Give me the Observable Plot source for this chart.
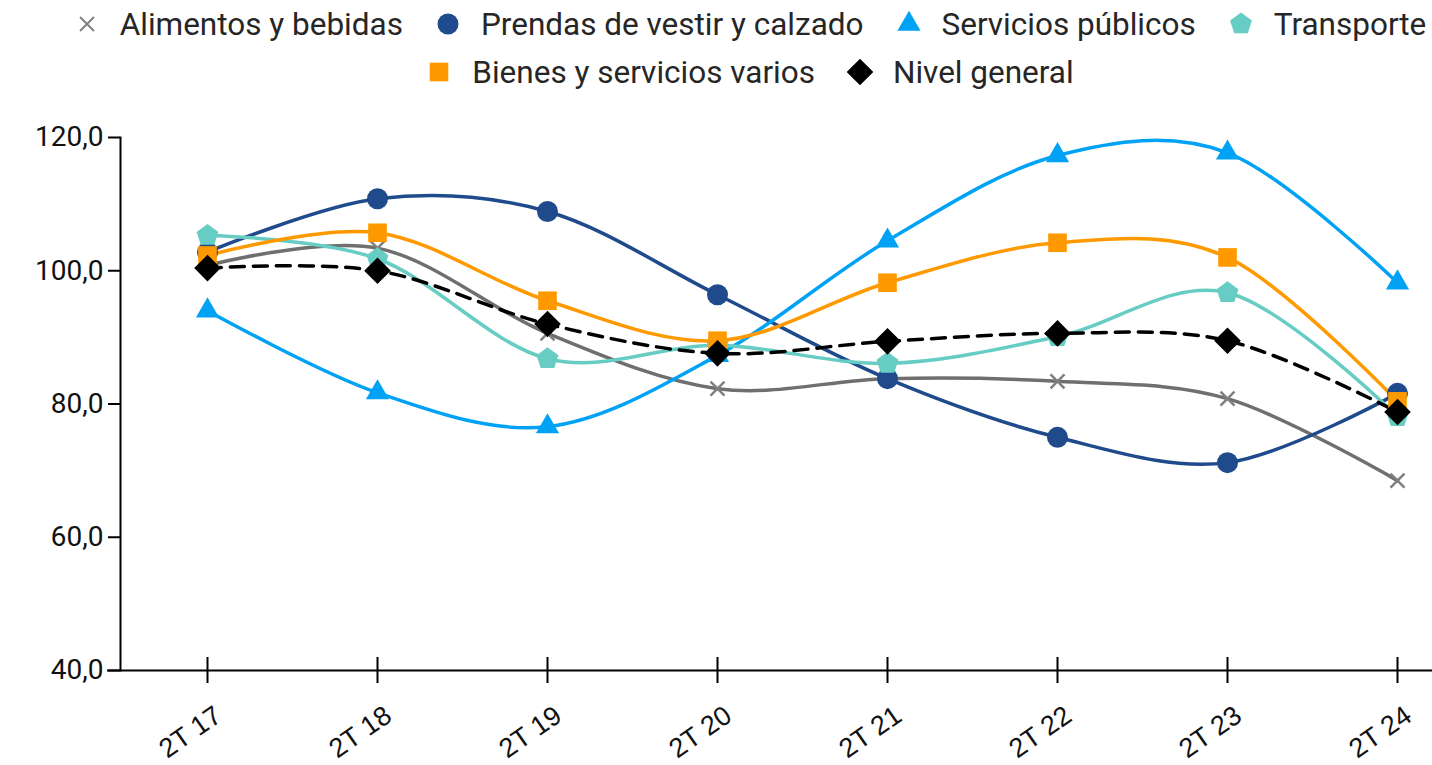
<!DOCTYPE html>
<html><head><meta charset="utf-8">
<script src="https://cdn.jsdelivr.net/npm/d3@7"></script>
<script src="https://cdn.jsdelivr.net/npm/@observablehq/plot@0.6"></script>
<style>
body{margin:0;background:#fff;font-family:Roboto,sans-serif;}
#legend{height:95px;padding-left:66px;box-sizing:border-box;}
.row{display:flex;justify-content:center;align-items:center;height:48px;}
.item{display:flex;align-items:center;margin:0 15px;font-size:31.5px;color:#262626;white-space:nowrap;}
.item svg{margin-right:18px}
</style></head><body><div id="legend"></div><div id="chart"></div>
<script>
const periods = ["2T 17","2T 18","2T 19","2T 20","2T 21","2T 22","2T 23","2T 24"];
const seriesNames = ["Alimentos y bebidas","Prendas de vestir y calzado","Servicios públicos","Transporte","Bienes y servicios varios","Nivel general"];
const alimentos = [100.8, 103.4, 90.6, 82.3, 83.8, 83.4, 80.8, 68.5];
const prendas = [102.8, 110.8, 108.9, 96.4, 83.8, 75.0, 71.2, 81.6];
const servicios = [94.0, 81.7, 76.6, 87.3, 104.5, 117.3, 117.7, 98.2];
const transporte = [105.3, 101.8, 86.8, 88.8, 86.1, 90.1, 96.7, 78.1];
const bienes = [102.3, 105.7, 95.5, 89.5, 98.2, 104.2, 102.0, 80.4];
const nivel = [100.4, 100.0, 92.0, 87.6, 89.4, 90.6, 89.5, 78.8];
const yTicks = [40, 60, 80, 100, 120];

const pentagon = {
  draw(ctx, size) {
    const R = Math.sqrt(size / (2.5 * Math.sin(2 * Math.PI / 5)));
    for (let k = 0; k < 5; k++) {
      const a = -Math.PI / 2 + k * 2 * Math.PI / 5;
      const x = R * Math.cos(a), y = R * Math.sin(a);
      if (k === 0) ctx.moveTo(x, y); else ctx.lineTo(x, y);
    }
    ctx.closePath();
  }
};

const styles = [
  {values: alimentos, color: "#6f6f6f", mcolor: "#7f7f7f", symbol: "times", r: 6.4, dash: null, stroke: true},
  {values: prendas, color: "#1f4a8c", mcolor: "#1f4a8c", symbol: "circle", r: 10.5},
  {values: servicios, color: "#00a2f5", mcolor: "#00a2f5", symbol: "triangle", r: 8.6},
  {values: transporte, color: "#66ccc4", mcolor: "#66ccc4", symbol: pentagon, r: 10},
  {values: bienes, color: "#ff9900", mcolor: "#ff9900", symbol: "square", r: 10.5},
  {values: nivel, color: "#000000", mcolor: "#000000", symbol: "diamond2", r: 12, dash: "14,9"}
];

const rows = seriesNames.map((name, i) => styles[i].values.map((v, j) => ({series: name, period: periods[j], value: v})));

// Legend
const legend = d3.select("#legend");
const legendRows = [[0,1,2,3],[4,5]];
legendRows.forEach(idxs => {
  const row = legend.append("div").attr("class","row");
  idxs.forEach(i => {
    const st = styles[i];
    const item = row.append("div").attr("class","item");
    const svg = item.append("svg").attr("width",30).attr("height",30);
    const sym = typeof st.symbol === "string" ? {times: d3.symbolTimes, circle: d3.symbolCircle, triangle: d3.symbolTriangle, square: d3.symbolSquare, diamond2: d3.symbolDiamond2}[st.symbol] : st.symbol;
    const p = svg.append("path").attr("transform","translate(15,15)").attr("d", d3.symbol(sym, Math.PI * st.r * st.r)());
    if (st.stroke) p.attr("fill","none").attr("stroke", st.mcolor).attr("stroke-width", 2);
    else p.attr("fill", st.mcolor);
    item.append("span").text(seriesNames[i]);
  });
});

const marks = [
  Plot.ruleY([40], {stroke: "#000", strokeWidth: 2, insetLeft: -13, insetRight: -34}),
  Plot.frame({anchor: "left", stroke: "#000", strokeWidth: 2}),
  Plot.axisY({ticks: yTicks, tickSize: 12, tickPadding: 5, fontSize: 28, tickFormat: d => d.toFixed(1).replace(".", ","), stroke: "#000", strokeWidth: 2, fill: "#111"}),
  Plot.axisX({tickSize: 26, dy: -13, tickFormat: () => "", stroke: "#000", strokeWidth: 2}),
  Plot.axisX({tickSize: 0, tickRotate: -35, tickPadding: 30, dx: 11, dy: 12, fontSize: 27, fill: "#111", fontFamily: "Liberation Sans, Arial, sans-serif"})
];
rows.forEach((data, i) => {
  const st = styles[i];
  marks.push(Plot.line(data, {x: "period", y: "value", stroke: st.color, strokeWidth: 3.5, curve: "cardinal", strokeDasharray: st.dash || undefined}));
});
rows.forEach((data, i) => {
  const st = styles[i];
  if (st.stroke) marks.push(Plot.dot(data, {x: "period", y: "value", symbol: st.symbol, r: st.r, stroke: st.mcolor, strokeWidth: 2.5, fill: "none"}));
  else marks.push(Plot.dot(data, {x: "period", y: "value", symbol: st.symbol, r: st.r, fill: st.mcolor, stroke: "none"}));
});

const chart = Plot.plot({
  width: 1432, height: 670,
  marginTop: 42, marginBottom: 95, marginLeft: 120, marginRight: 34,
  style: {fontFamily: "Roboto, sans-serif", background: "#fff", overflow: "visible"},
  x: {type: "point", domain: periods, padding: 0, insetLeft: 85, insetRight: 0, label: null},
  y: {domain: [40, 120], label: null},
  marks
});
document.getElementById("chart").appendChild(chart);
</script></body></html>
